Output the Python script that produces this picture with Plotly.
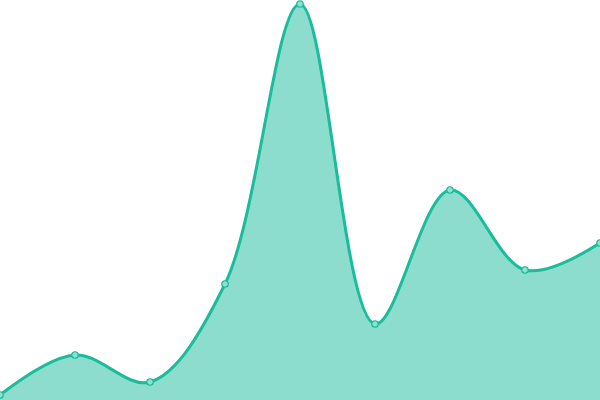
import plotly.graph_objects as go

# Point positions and values
x_vals = [0, 1, 2, 3, 4, 5, 6, 7, 8]
y_vals = [5, 45, 18, 116, 396, 76, 210, 130, 157]

line_color = '#1abc9c'
fill_color = 'rgba(26,188,156,0.5)'

fig = go.Figure()
fig.add_trace(go.Scatter(
    x=x_vals,
    y=y_vals,
    mode='lines+markers',
    line=dict(color=line_color, width=3, shape='spline', smoothing=1),
    fill='tozeroy',
    fillcolor=fill_color,
    marker=dict(size=6.5, color='#8ee0cf', line=dict(color=line_color, width=1.2)),
    cliponaxis=False,
    showlegend=False
))

fig.update_xaxes(visible=False, range=[0, 8])
fig.update_yaxes(visible=False, range=[0, 400])
fig.update_layout(
    width=600, height=400,
    margin=dict(l=0, r=0, t=0, b=0),
    paper_bgcolor='white', plot_bgcolor='white'
)
# drop the page's default body margin so the chart sits flush in the window
fig.write_html('out.html', config={'displayModeBar': False},
               post_script="document.body.style.margin='0';")
